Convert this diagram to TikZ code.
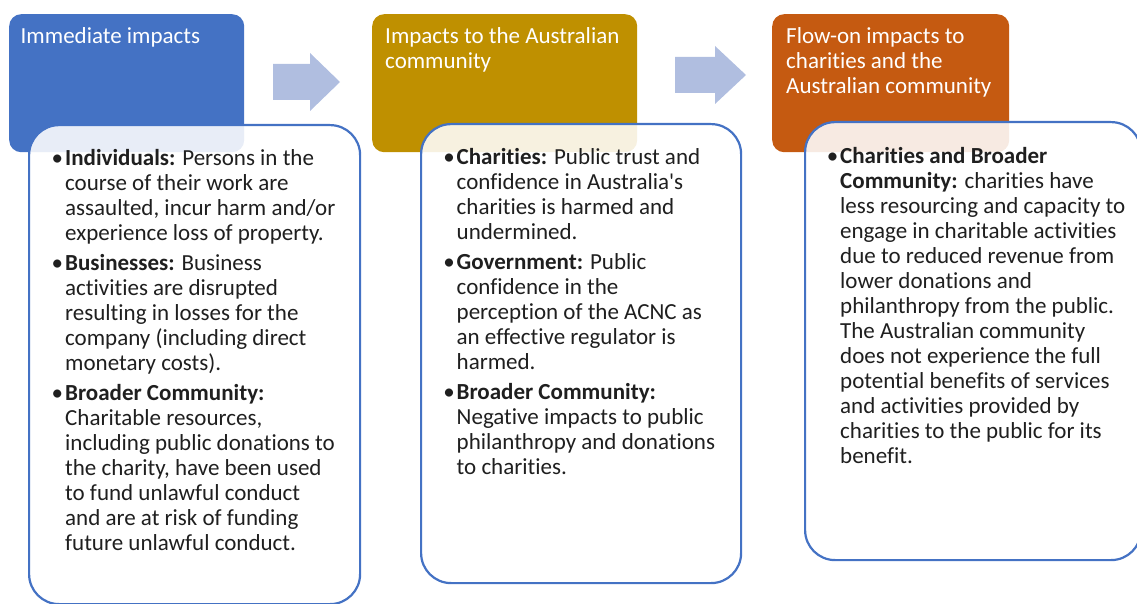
\documentclass[tikz,border=0pt]{standalone}
\usepackage{fontspec}
\setmainfont{Carlito}[Ligatures={TeX,NoCommon}]
\usepackage{tikz}

\definecolor{immblue}{HTML}{4472C4}
\definecolor{ausgold}{HTML}{BF9000}
\definecolor{flowrust}{HTML}{C55A11}
\definecolor{arrowfill}{HTML}{B0BEE0}

\newcommand{\boxlines}[1]{\begin{tabular}{@{}l@{}}#1\end{tabular}}
\newcommand{\impbullet}{\llap{\textbullet\hspace{2pt}}}

\tikzset{
    headbox/.style={rounded corners=12pt, anchor=north west, inner sep=0pt,
                    minimum height=138pt},
    bodybox/.style={draw=immblue, line width=2.2pt, fill=white, fill opacity=0.88,
                    rounded corners=30pt, anchor=north west, inner sep=0pt},
    headtext/.style={anchor=north west, inner sep=0pt, text=white,
                     font=\fontsize{23}{25}\selectfont},
    bodytext/.style={anchor=north west, inner sep=0pt, text=black!88,
                     font=\fontsize{23}{25}\selectfont},
    flowarrow/.style={fill=arrowfill}
}

\begin{document}
\begin{tikzpicture}[x=1pt, y=-1pt]
    \useasboundingbox (0,0) rectangle (1137,604);

    % Coloured header boxes
    \node[headbox, fill=immblue, minimum width=235pt] (immhead) at (9,14) {};
    \node[headbox, fill=ausgold, minimum width=265pt] (aushead) at (372,14) {};
    \node[headbox, fill=flowrust, minimum width=237pt] (flowhead) at (772,14) {};

    \node[headtext] (immtitle) at (20.5,26) {\boxlines{Immediate impacts}};
    \node[headtext] (austitle) at (385,26)
        {\boxlines{Impacts to the Australian\\ community}};
    \node[headtext] (flowtitle) at (786,26)
        {\boxlines{Flow-on impacts to\\ charities and the\\ Australian community}};

    % Block arrows between the stages
    \fill[flowarrow] (273,64) -- (310,64) -- (310,53) -- (340,82)
                     -- (310,111) -- (310,100) -- (273,100) -- cycle;
    \fill[flowarrow] (675,57) -- (715,57) -- (715,46) -- (746,75)
                     -- (715,104) -- (715,93) -- (675,93) -- cycle;

    % White boxes with the details
    \node[bodybox, minimum width=331pt, minimum height=479pt] (immbody) at (28,124) {};
    \node[bodybox, minimum width=320pt, minimum height=459pt] (ausbody) at (420,123) {};
    \node[bodybox, minimum width=336pt, minimum height=438pt] (flowbody) at (804,121) {};

    \node[bodytext] (immtext) at (65,148) {\boxlines{%
        \impbullet\textbf{Individuals:} Persons in the\\
        course of their work are\\
        assaulted, incur harm and/or\\
        experience loss of property.\\[5pt]
        \impbullet\textbf{Businesses:} Business\\
        activities are disrupted\\
        resulting in losses for the\\
        company (including direct\\
        monetary costs).\\[5pt]
        \impbullet\textbf{Broader Community:}\\
        Charitable resources,\\
        including public donations to\\
        the charity, have been used\\
        to fund unlawful conduct\\
        and are at risk of funding\\
        future unlawful conduct.}};

    \node[bodytext] (austext) at (456.5,146.3) {\boxlines{%
        \impbullet\textbf{Charities:} Public trust and\\
        confidence in Australia\textquotesingle s\\
        charities is harmed and\\
        undermined.\\[5pt]
        \impbullet\textbf{Government:} Public\\
        confidence in the\\
        perception of the ACNC as\\
        an effective regulator is\\
        harmed.\\[5pt]
        \impbullet\textbf{Broader Community:}\\
        Negative impacts to public\\
        philanthropy and donations\\
        to charities.}};

    \node[bodytext] (flowtext) at (840,145.5) {\boxlines{%
        \impbullet\textbf{Charities and Broader}\\
        \textbf{Community:} charities have\\
        less resourcing and capacity to\\
        engage in charitable activities\\
        due to reduced revenue from\\
        lower donations and\\
        philanthropy from the public.\\
        The Australian community\\
        does not experience the full\\
        potential benefits of services\\
        and activities provided by\\
        charities to the public for its\\
        benefit.}};
\end{tikzpicture}
\end{document}
